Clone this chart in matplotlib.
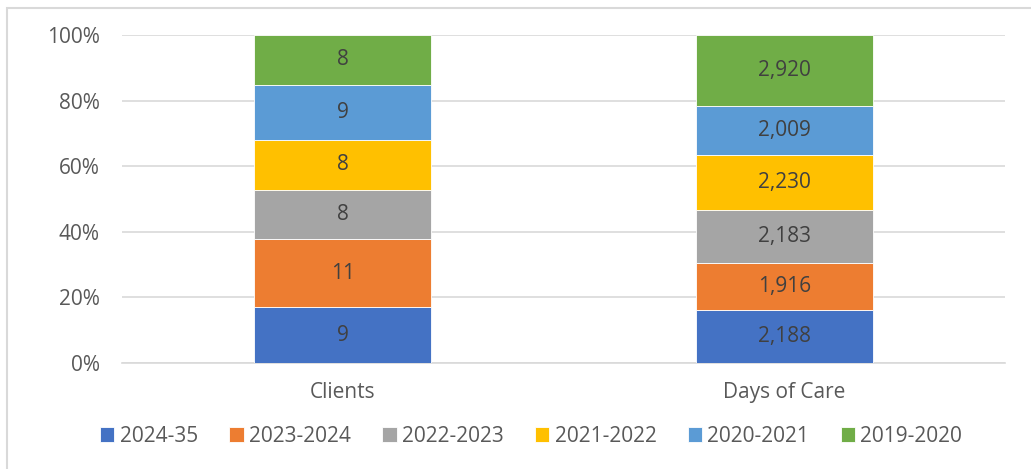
import matplotlib.pyplot as plt
from matplotlib.patches import Rectangle

# data
categories = ["Clients", "Days of Care"]
series_names = ["2024-35", "2023-2024", "2022-2023", "2021-2022", "2020-2021", "2019-2020"]
clients = [9, 11, 8, 8, 9, 8]
days_of_care = [2188, 1916, 2183, 2230, 2009, 2920]
colors = ["#4472C4", "#ED7D31", "#A5A5A5", "#FFC000", "#5B9BD5", "#70AD47"]

plt.rcParams['font.family'] = ['Open Sans', 'DejaVu Sans']

fig = plt.figure(figsize=(10.31, 4.69), dpi=100)
ax = fig.add_axes([122 / 1031, 1 - 363 / 469, (1005 - 122) / 1031, (363 - 35) / 469])

# light border round the chart area
fig.patches.append(Rectangle((7 / 1031, -0.1), 1.2, (469 - 8) / 469 + 0.1,
                             transform=fig.transFigure, fill=False,
                             edgecolor="#D9D9D9", linewidth=1.5))

totals = [sum(clients), sum(days_of_care)]
bottoms = [0.0, 0.0]
for i, name in enumerate(series_names):
    vals = [clients[i], days_of_care[i]]
    shares = [v / t for v, t in zip(vals, totals)]
    bars = ax.bar(range(len(categories)), shares, width=0.4, bottom=bottoms,
                  color=colors[i], edgecolor="white", linewidth=0.6, label=name,
                  zorder=3)
    for b, v, s, bot in zip(bars, vals, shares, bottoms):
        ax.text(b.get_x() + b.get_width() / 2, bot + s / 2, "{:,}".format(v),
                ha="center", va="center", fontsize=15, color="#404040", zorder=4)
    bottoms = [bb + s for bb, s in zip(bottoms, shares)]

ax.set_xlim(-0.5, 1.5)
ax.set_ylim(0, 1)
ax.set_yticks([0, 0.2, 0.4, 0.6, 0.8, 1.0])
ax.set_yticklabels(["0%", "20%", "40%", "60%", "80%", "100%"])
ax.set_xticks(range(len(categories)))
ax.set_xticklabels(categories)
ax.tick_params(axis="both", length=0, labelsize=15, labelcolor="#595959")
ax.tick_params(axis="y", pad=16)
ax.tick_params(axis="x", pad=14)
ax.grid(axis="y", color="#D9D9D9", linewidth=1.2, zorder=0)
for side in ["top", "right", "left"]:
    ax.spines[side].set_visible(False)
ax.spines["bottom"].set_color("#D9D9D9")
ax.spines["bottom"].set_linewidth(1.2)

fig.legend(loc="center", bbox_to_anchor=(531 / 1031, 1 - 436 / 469), ncol=6,
           frameon=False, fontsize=15, labelcolor="#595959",
           handlelength=0.7, handleheight=0.7, handletextpad=0.25,
           columnspacing=1.5)

plt.savefig("out.png", dpi=100)
